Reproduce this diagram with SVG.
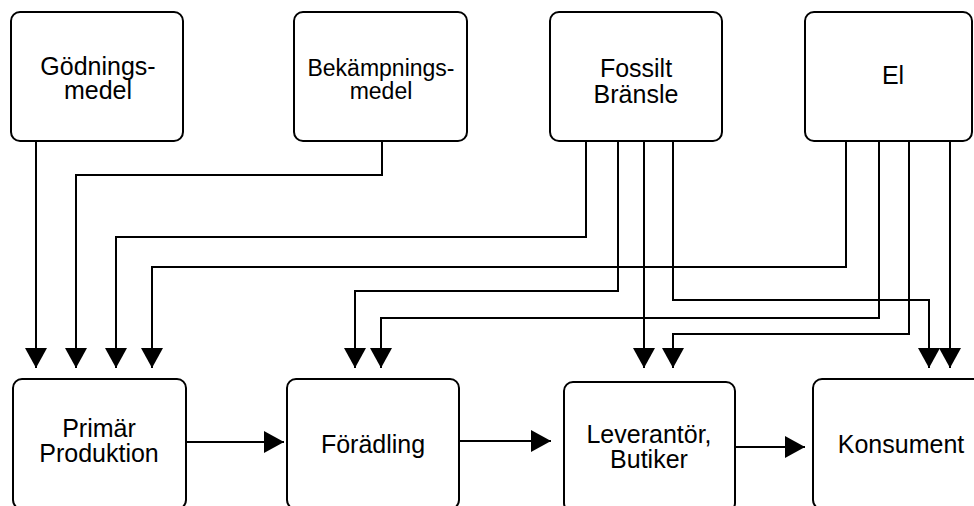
<svg xmlns="http://www.w3.org/2000/svg" width="974" height="506" viewBox="0 0 974 506">
<defs>
<style>
.box{fill:#fff;stroke:#000;stroke-width:2}
.t{font-family:"Liberation Sans",Arial,sans-serif;font-size:25px;fill:#000;text-anchor:middle}
.s{font-size:23px}
.c{fill:none;stroke:#000;stroke-width:2}
</style>
<marker id="ah" markerWidth="22" markerHeight="22" viewBox="0 0 22 22" refX="20" refY="11" orient="auto" markerUnits="userSpaceOnUse">
<path d="M0,0 L20,11 L0,22 Z" fill="#000"/>
</marker>
</defs>
<rect width="974" height="506" fill="#fff"/>
<g id="godning"><rect class="box" x="11" y="12" width="172" height="129" rx="9"/><text class="t" x="98" y="75">Gödnings-</text><text class="t" x="98" y="99">medel</text></g>
<g id="bekampning"><rect class="box" x="294" y="12" width="173" height="129" rx="9"/><text class="t s" x="381" y="76">Bekämpnings-</text><text class="t s" x="381" y="99">medel</text></g>
<g id="fossilt"><rect class="box" x="550" y="12" width="172" height="129" rx="9"/><text class="t" x="636" y="77">Fossilt</text><text class="t" x="636" y="103">Bränsle</text></g>
<g id="el"><rect class="box" x="805" y="12" width="167" height="129" rx="9"/><text class="t" x="893" y="84">El</text></g>
<g id="primar"><rect class="box" x="13" y="379" width="173" height="130" rx="9"/><text class="t" x="99" y="437">Primär</text><text class="t" x="99" y="462">Produktion</text></g>
<g id="foradling"><rect class="box" x="287" y="379" width="172" height="130" rx="9"/><text class="t" x="373" y="453">Förädling</text></g>
<g id="leverantor"><rect class="box" x="564" y="382" width="171" height="130" rx="9"/><text class="t" x="649" y="443">Leverantör,</text><text class="t" x="649" y="468">Butiker</text></g>
<g id="konsument"><rect class="box" x="813" y="379" width="174" height="130" rx="9"/><text class="t" x="901" y="453">Konsument</text></g>
<g id="connectors" class="c">
<path d="M36,141 V368" marker-end="url(#ah)"/>
<path d="M382,141 V175 H76 V368" marker-end="url(#ah)"/>
<path d="M586,141 V237 H116 V368" marker-end="url(#ah)"/>
<path d="M618,141 V291 H355 V368" marker-end="url(#ah)"/>
<path d="M644,141 V368" marker-end="url(#ah)"/>
<path d="M673,141 V300 H929 V368" marker-end="url(#ah)"/>
<path d="M846,141 V267 H152 V368" marker-end="url(#ah)"/>
<path d="M879,141 V318 H381 V368" marker-end="url(#ah)"/>
<path d="M909,141 V334 H673 V368" marker-end="url(#ah)"/>
<path d="M950,141 V368" marker-end="url(#ah)"/>
<path d="M186,442 H284" marker-end="url(#ah)"/>
<path d="M459,441 H551" marker-end="url(#ah)"/>
<path d="M735,447 H805" marker-end="url(#ah)"/>
</g>
</svg>
